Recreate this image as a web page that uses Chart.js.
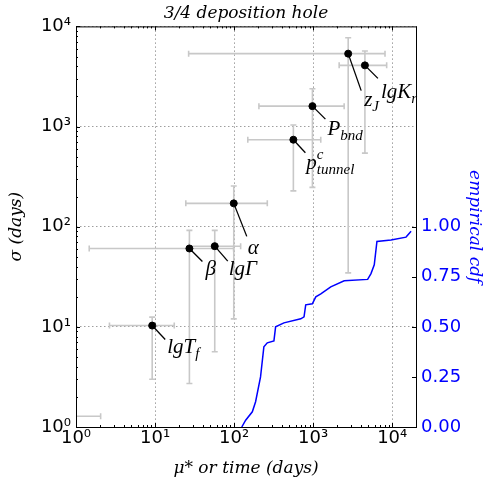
<!DOCTYPE html>
<html>
<head>
<meta charset="utf-8">
<title>3/4 deposition hole</title>
<script src="https://cdn.jsdelivr.net/npm/chart.js@4.4.0/dist/chart.umd.min.js"></script>
<style>
  html, body { margin: 0; padding: 0; background: #fff; }
  canvas { display: block; }
</style>
</head>
<body>
<canvas id="chart" width="485" height="484"></canvas>
<script>
// Parameters: mean effect mu* against spread sigma, with error ranges
const paramNames = ['lgT_f', 'β', 'lgΓ', 'α', 'p_tunnel^c', 'P_bnd', 'z_J', 'lgK_r', ''];
const muStar = [9.2, 27.2, 56.9, 99, 562, 979, 2774, 4516, 0.7];
const muLow = [2.65, 1.47, 27, 24.5, 149, 206, 26.6, 2133, 0.3];
const muHigh = [17.5, 98.5, 121, 263, 1248, 2466, 8110, 8510, 2.05];
const sigma = [10.3, 60.6, 63.9, 171, 739, 1599, 5345, 4083, 1.28];
const sigmaLow = [3.0, 2.72, 5.65, 12, 228, 247, 34.6, 543, 1.2];
const sigmaHigh = [12.5, 91.8, 91.8, 255, 1037, 2384, 7690, 5690, 1.4];

// Empirical cdf of the time (days)
const cdfTime = [125, 140, 170, 187, 216, 238, 263, 319, 335, 427, 697, 767, 805, 977, 1080, 1250, 1670, 2470, 4890, 5390, 5930, 6410, 9660, 14960, 17330];
const cdfProb = [0.0, 0.034, 0.076, 0.126, 0.25, 0.40, 0.42, 0.43, 0.50, 0.52, 0.54, 0.55, 0.61, 0.615, 0.65, 0.665, 0.70, 0.73, 0.737, 0.766, 0.81, 0.926, 0.934, 0.948, 0.977];

// Tick values
const xDecades = [1, 10, 100, 1000, 10000];
const yDecades = [1, 10, 100, 1000, 10000];
const cdfTicks = [0, 0.25, 0.5, 0.75, 1.0];

// callout line offset (dx, dy) and text offset from the line end (tx, ty)
const callouts = [
  [13, 14, 2, 13], [13, 13, 3, 14], [13, 15, 1, 14], [13, 33, 1, 18],
  [12, 13, 1, 16], [13, 13, 2, 16], [13, 37, 3, 15], [13, 13, 3, 20], null
];

const supDigits = { '0': '⁰', '1': '¹', '2': '²', '3': '³', '4': '⁴' };
const powLabel = v => '10' + supDigits[Math.round(Math.log10(v))];

const serifItalic = size => `italic ${size}px "Liberation Serif", "DejaVu Serif", serif`;
const titleFont = { family: '"DejaVu Serif", serif', style: 'italic', size: 17, weight: 'normal' };

function drawMathLabel(ctx, text, x, y) {
  // text like "lgT_f" or "p_tunnel^c": base, subscript, superscript
  let base = text, sub = '', sup = '';
  const supIdx = base.indexOf('^');
  if (supIdx >= 0) { sup = base.slice(supIdx + 1); base = base.slice(0, supIdx); }
  const subIdx = base.indexOf('_');
  if (subIdx >= 0) { sub = base.slice(subIdx + 1); base = base.slice(0, subIdx); }
  ctx.font = serifItalic(21);
  ctx.fillText(base, x, y);
  const w = ctx.measureText(base).width;
  ctx.font = serifItalic(15);
  if (sub) ctx.fillText(sub, x + w, y + 5);
  if (sup) ctx.fillText(sup, x + w, y - 10);
}

const decorPlugin = {
  id: 'decor',
  beforeDatasetsDraw(chart) {
    const { ctx, chartArea: a, scales: { x, y } } = chart;
    ctx.save();
    ctx.beginPath();
    ctx.rect(a.left, a.top, a.right - a.left, a.bottom - a.top);
    ctx.clip();
    ctx.strokeStyle = '#c8c8c8';
    ctx.lineWidth = 1.6;
    muStar.forEach((m, i) => {
      const px = x.getPixelForValue(m), py = y.getPixelForValue(sigma[i]);
      const x0 = x.getPixelForValue(muLow[i]), x1 = x.getPixelForValue(muHigh[i]);
      const y0 = y.getPixelForValue(sigmaLow[i]), y1 = y.getPixelForValue(sigmaHigh[i]);
      ctx.beginPath();
      ctx.moveTo(x0, py); ctx.lineTo(x1, py);
      ctx.moveTo(x0, py - 3); ctx.lineTo(x0, py + 3);
      ctx.moveTo(x1, py - 3); ctx.lineTo(x1, py + 3);
      ctx.moveTo(px, y0); ctx.lineTo(px, y1);
      ctx.moveTo(px - 3, y0); ctx.lineTo(px + 3, y0);
      ctx.moveTo(px - 3, y1); ctx.lineTo(px + 3, y1);
      ctx.stroke();
    });
    ctx.restore();
  },
  afterDatasetsDraw(chart) {
    const { ctx, chartArea: a, scales: { x, y, y2 } } = chart;
    ctx.save();

    // callouts
    ctx.strokeStyle = '#000';
    ctx.fillStyle = '#000';
    ctx.lineWidth = 1.3;
    ctx.textBaseline = 'alphabetic';
    muStar.forEach((m, i) => {
      const c = callouts[i];
      if (!c || !paramNames[i]) return;
      const px = x.getPixelForValue(m), py = y.getPixelForValue(sigma[i]);
      ctx.beginPath();
      ctx.moveTo(px, py);
      ctx.lineTo(px + c[0], py + c[1]);
      ctx.stroke();
      drawMathLabel(ctx, paramNames[i], px + c[0] + c[2], py + c[1] + c[3]);
    });

    // frame
    ctx.strokeStyle = '#000';
    ctx.lineWidth = 1;
    ctx.strokeRect(a.left + 0.5, a.top + 0.5, a.right - a.left, a.bottom - a.top);

    // inward ticks, major and minor, on the log axes
    ctx.beginPath();
    xDecades.forEach(d => {
      for (let k = 1; k <= 9; k++) {
        const v = d * k;
        if (v > x.max) break;
        const p = Math.round(x.getPixelForValue(v)) + 0.5;
        const len = k === 1 ? 4 : 2;
        ctx.moveTo(p, a.bottom); ctx.lineTo(p, a.bottom - len);
        ctx.moveTo(p, a.top); ctx.lineTo(p, a.top + len);
      }
    });
    yDecades.forEach(d => {
      for (let k = 1; k <= 9; k++) {
        const v = d * k;
        if (v > y.max) break;
        const p = Math.round(y.getPixelForValue(v)) + 0.5;
        const len = k === 1 ? 4 : 2;
        ctx.moveTo(a.left, p); ctx.lineTo(a.left + len, p);
      }
    });
    cdfTicks.forEach(v => {
      const p = Math.round(y2.getPixelForValue(v)) + 0.5;
      ctx.moveTo(a.right, p); ctx.lineTo(a.right - 4, p);
    });
    ctx.stroke();
    ctx.restore();
  }
};

const gridStyle = {
  display: true,
  color: 'rgba(0, 0, 0, 0.38)',
  lineWidth: 1,
  drawTicks: false
};

new Chart(document.getElementById('chart'), {
  type: 'scatter',
  data: {
    datasets: [
      {
        label: 'sensitivity',
        data: muStar.map((m, i) => ({ x: m, y: sigma[i] })),
        xAxisID: 'x',
        yAxisID: 'y',
        backgroundColor: '#000',
        borderColor: '#000',
        pointRadius: 3.5,
        order: 1
      },
      {
        type: 'line',
        label: 'empirical cdf',
        data: cdfTime.map((t, i) => ({ x: t, y: cdfProb[i] })),
        xAxisID: 'x',
        yAxisID: 'y2',
        borderColor: '#0000ff',
        borderWidth: 1.5,
        pointRadius: 0,
        tension: 0,
        fill: false,
        order: 2
      }
    ]
  },
  options: {
    responsive: false,
    animation: false,
    events: [],
    layout: { padding: 0 },
    plugins: {
      legend: { display: false },
      tooltip: { enabled: false },
      title: {
        display: true,
        text: '3/4 deposition hole',
        fullSize: false,
        color: '#000',
        font: titleFont,
        padding: { top: 3, bottom: 3 }
      }
    },
    scales: {
      x: {
        type: 'logarithmic',
        position: 'bottom',
        min: 1,
        max: 20000,
        afterBuildTicks: s => { s.ticks = xDecades.map(v => ({ value: v })); },
        afterFit: s => { s.height = 57; },
        grid: gridStyle,
        border: { display: false, dash: [1.5, 2.5] },
        ticks: {
          callback: v => powLabel(v),
          color: '#000',
          font: { family: '"DejaVu Sans"', size: 18 },
          padding: 1,
          maxRotation: 0,
          autoSkip: false
        },
        title: {
          display: true,
          text: 'μ* or time (days)',
          color: '#000',
          font: titleFont,
          padding: { top: 0, bottom: 5 }
        }
      },
      y: {
        type: 'logarithmic',
        position: 'left',
        min: 1,
        max: 10000,
        afterBuildTicks: s => { s.ticks = yDecades.map(v => ({ value: v })); },
        afterFit: s => { s.width = 76; },
        grid: gridStyle,
        border: { display: false, dash: [1.5, 2.5] },
        ticks: {
          callback: v => powLabel(v),
          color: '#000',
          font: { family: '"DejaVu Sans"', size: 18 },
          padding: 5,
          autoSkip: false
        },
        title: {
          display: true,
          text: 'σ (days)',
          color: '#000',
          font: titleFont,
          padding: { top: 6, bottom: 0 }
        }
      },
      y2: {
        type: 'linear',
        position: 'right',
        min: 0,
        max: 2,
        afterBuildTicks: s => { s.ticks = cdfTicks.map(v => ({ value: v })); },
        afterFit: s => { s.width = 69; },
        grid: { display: false, drawTicks: false },
        border: { display: false },
        ticks: {
          callback: v => v.toFixed(2),
          color: '#0000ff',
          font: { family: '"DejaVu Sans"', size: 18 },
          padding: 5,
          autoSkip: false
        },
        title: {
          display: true,
          text: 'empirical cdf',
          color: '#0000ff',
          font: titleFont,
          padding: { top: 0, bottom: 0 }
        }
      }
    }
  },
  plugins: [decorPlugin]
});
</script>
</body>
</html>
